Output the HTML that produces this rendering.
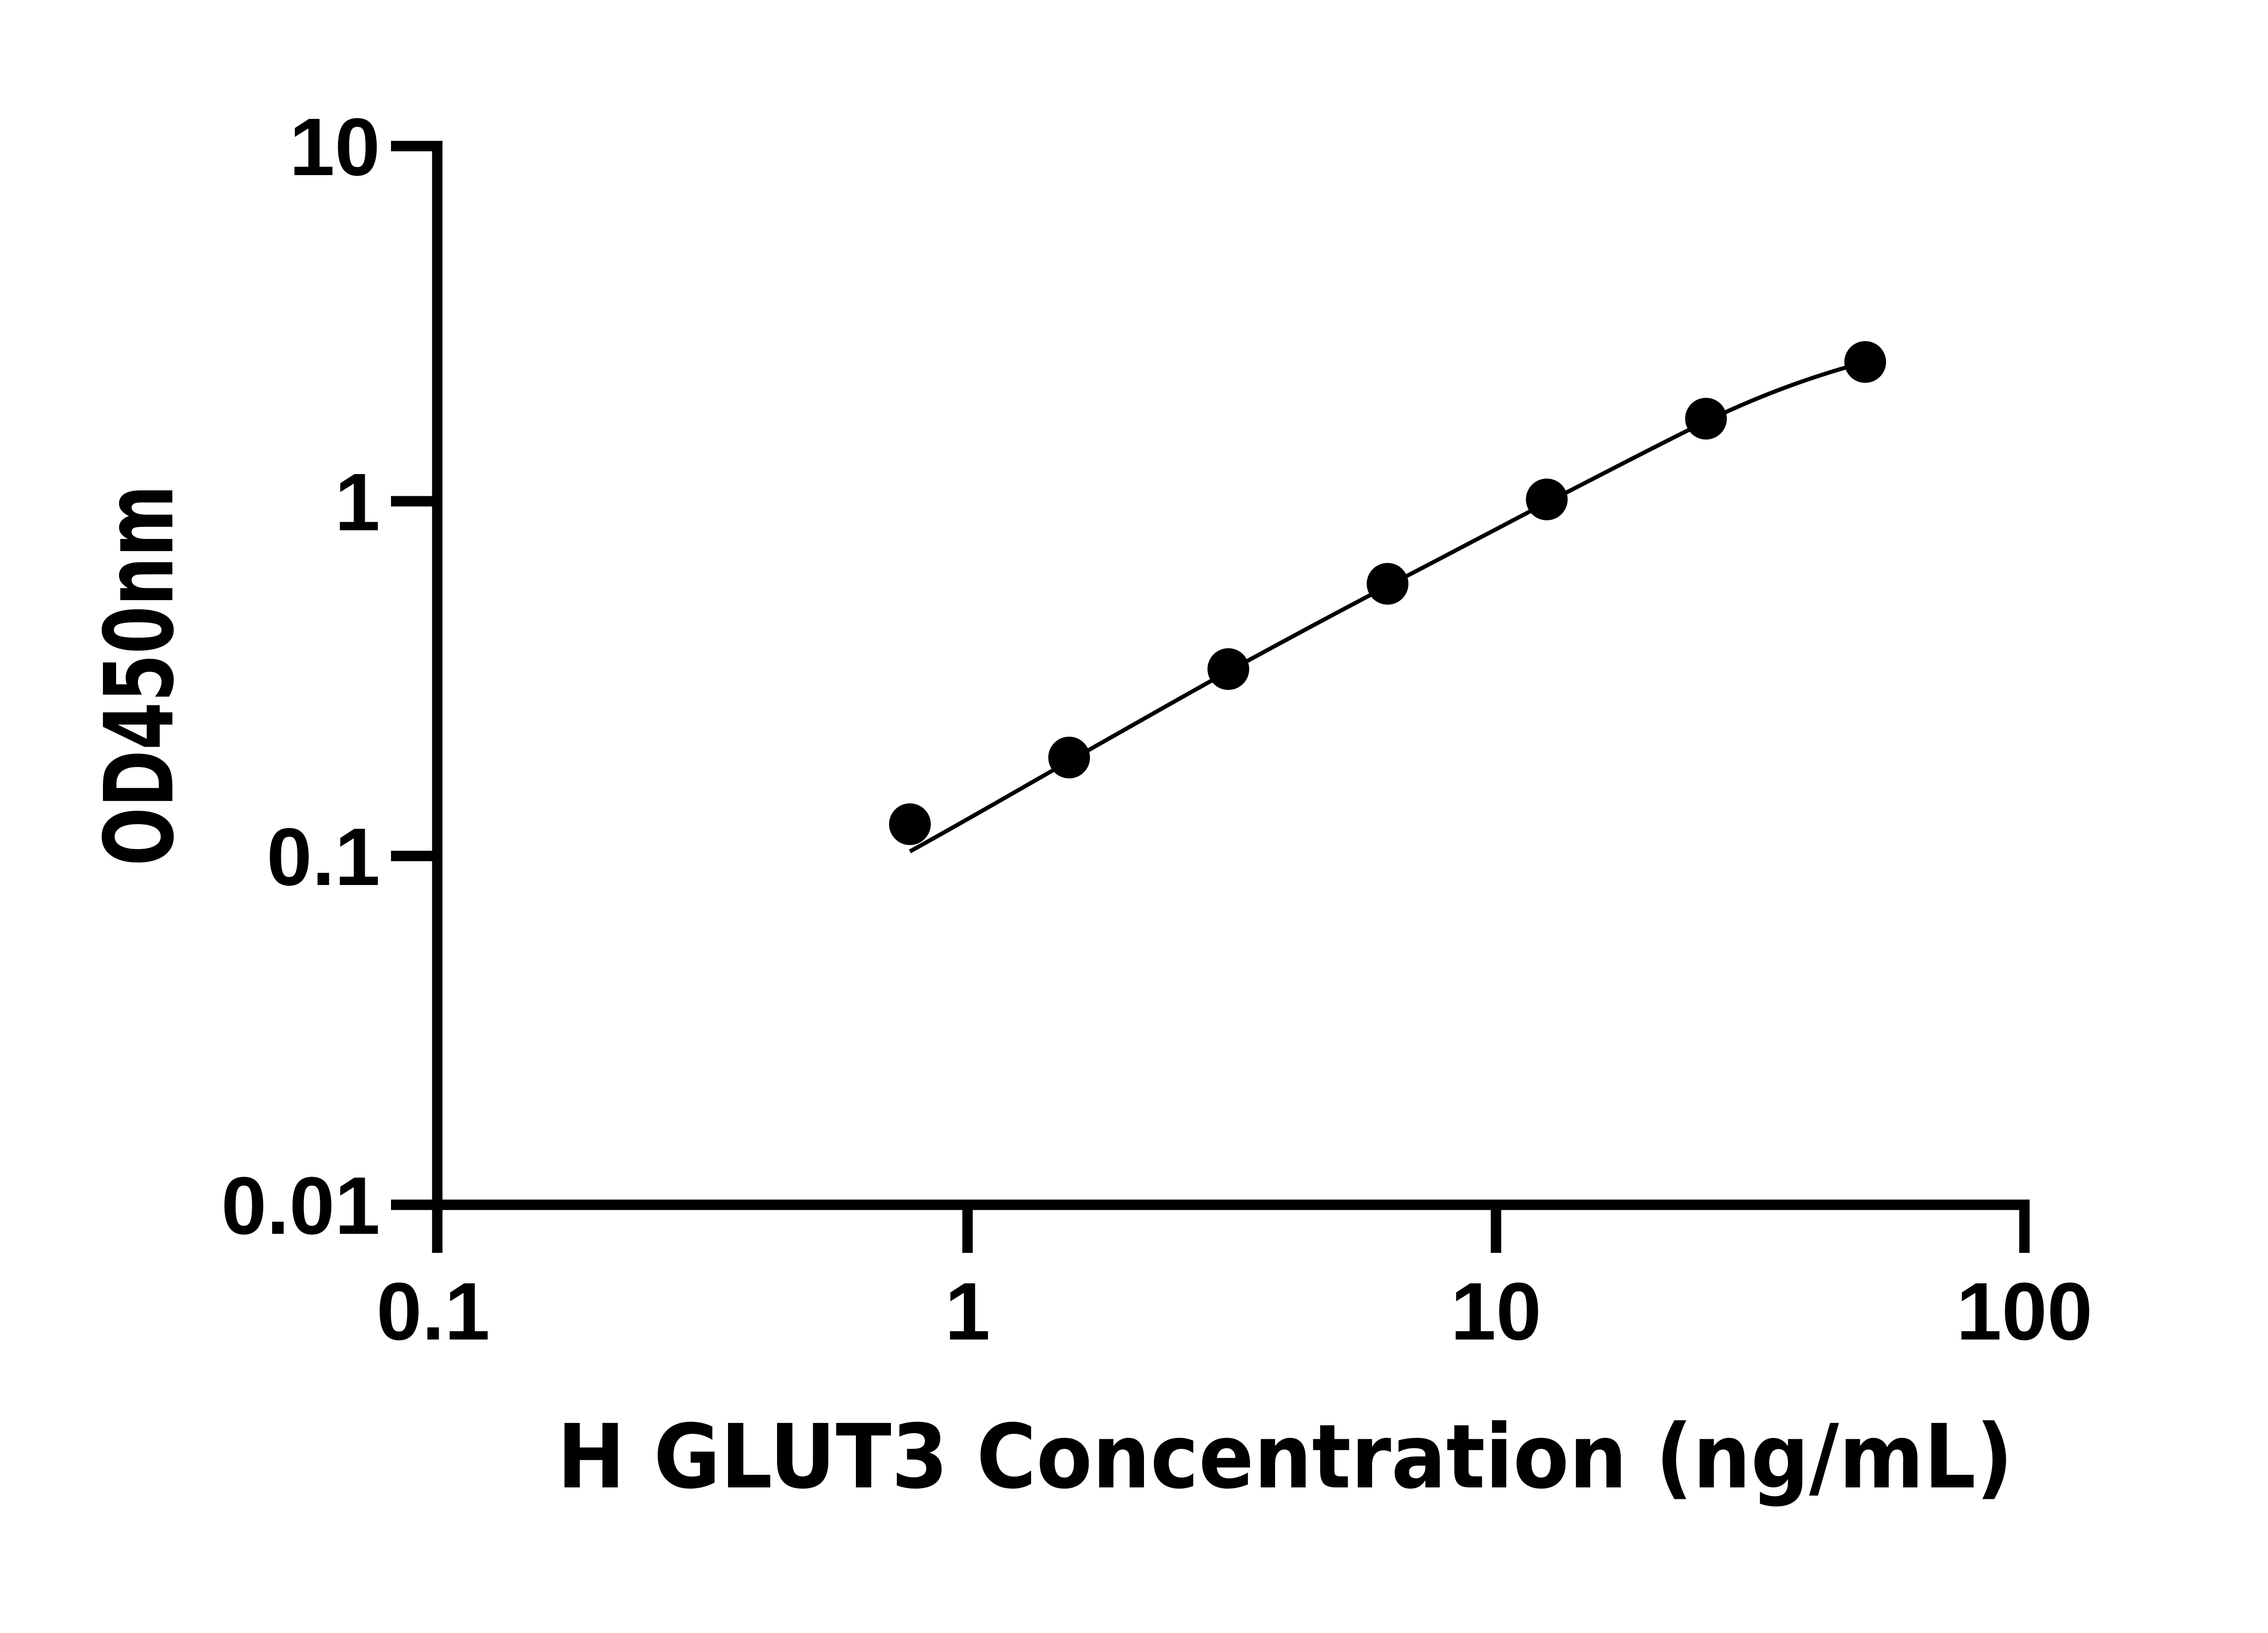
<!DOCTYPE html>
<html><head><meta charset="utf-8"><style>
html,body{margin:0;padding:0;background:#fff;}
svg{display:block;}
text{font-family:"Liberation Sans",Arial,sans-serif;font-weight:bold;fill:#000;}
.t{font-family:"DejaVu Sans","Liberation Sans",sans-serif;}
</style></head><body>
<svg width="5142" height="3600" viewBox="0 0 5142 3600" xmlns="http://www.w3.org/2000/svg">
<rect width="5142" height="3600" fill="#fff"/>
<g stroke="#000" stroke-width="23" fill="none" stroke-linecap="butt">
<line x1="964" y1="311" x2="964" y2="2762"/>
<line x1="953" y1="2656" x2="4474" y2="2656"/>
<line x1="862" y1="322" x2="975" y2="322"/>
<line x1="862" y1="1105" x2="964" y2="1105"/>
<line x1="862" y1="1887" x2="964" y2="1887"/>
<line x1="862" y1="2656" x2="964" y2="2656"/>
<line x1="2133" y1="2656" x2="2133" y2="2762"/>
<line x1="3298" y1="2656" x2="3298" y2="2762"/>
<line x1="4463" y1="2645" x2="4463" y2="2762"/>
</g>
<g font-size="180" text-anchor="end">
<text x="838" y="386">10</text>
<text x="838" y="1169">1</text>
<text x="838" y="1951">0.1</text>
<text x="838" y="2720">0.01</text>
</g>
<g font-size="180" text-anchor="middle">
<text x="955" y="2953">0.1</text>
<text x="2133" y="2953">1</text>
<text x="3298" y="2953">10</text>
<text x="4463" y="2953">100</text>
</g>
<g transform="translate(-83,0)">
<path d="M2089,1877 C2220,1805 2330,1740 2440,1678 C2560,1610 2700,1530 2791,1480 C2910,1415 3040,1345 3142,1292 C3260,1230 3390,1163 3493,1108 C3610,1048 3730,985 3844,929 C3960,873 4070,832 4195,798" fill="none" stroke="#000" stroke-width="9"/>
<g fill="#000">
<circle cx="2089" cy="1817" r="46"/>
<circle cx="2440" cy="1670" r="46"/>
<circle cx="2791" cy="1475" r="46"/>
<circle cx="3142" cy="1287" r="46"/>
<circle cx="3493" cy="1101" r="46"/>
<circle cx="3844" cy="923" r="46"/>
<circle cx="4195" cy="798" r="46"/>
</g>
</g>
<text class="t" x="2833" y="3279" font-size="195" text-anchor="middle" textLength="3210" lengthAdjust="spacingAndGlyphs">H GLUT3 Concentration (ng/mL)</text>
<text class="t" transform="translate(380,1489) rotate(-90)" x="0" y="0" font-size="210" text-anchor="middle" textLength="840" lengthAdjust="spacingAndGlyphs">OD450nm</text>
</svg>
</body></html>
